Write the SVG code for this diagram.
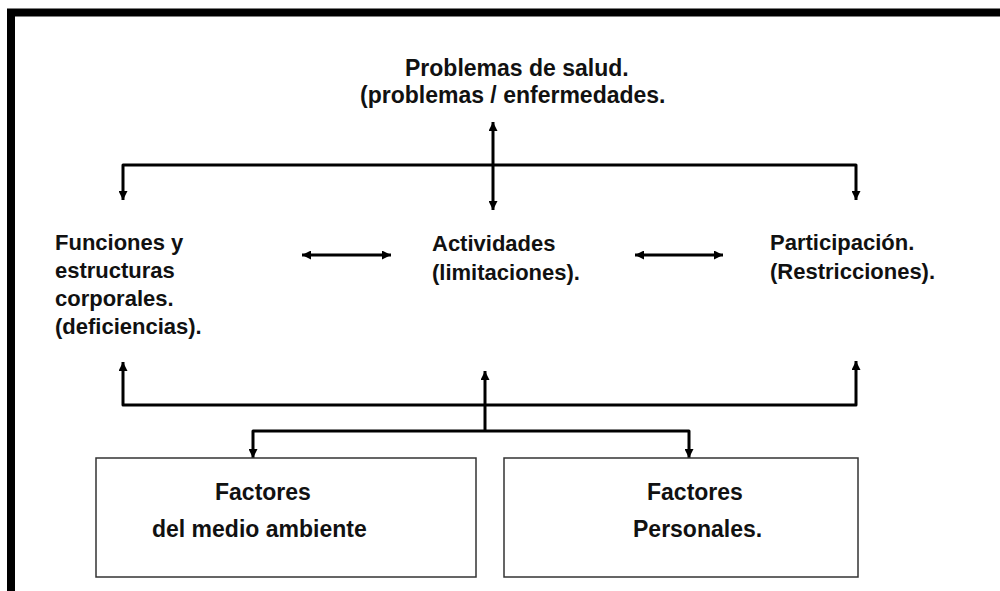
<svg xmlns="http://www.w3.org/2000/svg" width="1000" height="591" viewBox="0 0 1000 591">
  <style>
    .t { font-family: "Liberation Sans", Arial, sans-serif; font-weight: bold; fill: #111; }
    .m { font-size: 22px; }
    .b { font-size: 23px; }
    .c { fill: none; stroke: #000; stroke-width: 3; stroke-linejoin: round; }
    .box { fill: #fff; stroke: #333; stroke-width: 1.5; }
  </style>
  <defs>
    <marker id="ah" viewBox="0 0 10 10" refX="10" refY="5" markerUnits="userSpaceOnUse" markerWidth="10" markerHeight="9" orient="auto-start-reverse">
      <path d="M0,0 L10,5 L0,10 z" fill="#000"/>
    </marker>
  </defs>
  <rect width="1000" height="591" fill="#fff"/>
  <path d="M11,591 V12.5 H1000" fill="none" stroke="#000" stroke-width="8"/>

  <g id="connectors">
    <path class="c" d="M123,200 V165 H856 V200" marker-start="url(#ah)" marker-end="url(#ah)"/>
    <path class="c" d="M493,122 V210" marker-start="url(#ah)" marker-end="url(#ah)"/>
    <path class="c" d="M302,255 H391" marker-start="url(#ah)" marker-end="url(#ah)"/>
    <path class="c" d="M635,255 H723" marker-start="url(#ah)" marker-end="url(#ah)"/>
    <path class="c" d="M123,362 V405 H856 V361" marker-start="url(#ah)" marker-end="url(#ah)"/>
    <path class="c" d="M485,371 V431" marker-start="url(#ah)"/>
    <path class="c" d="M253,458 V431 H689 V458" marker-start="url(#ah)" marker-end="url(#ah)"/>
  </g>

  <g id="problemas">
    <text class="t b" x="405" y="76">Problemas de salud.</text>
    <text class="t b" x="360" y="103">(problemas / enfermedades.</text>
  </g>
  <g id="funciones">
    <text class="t m" x="55" y="250">Funciones y</text>
    <text class="t m" x="55" y="278">estructuras</text>
    <text class="t m" x="55" y="306">corporales.</text>
    <text class="t m" x="55" y="334">(deficiencias).</text>
  </g>
  <g id="actividades">
    <text class="t m" x="432" y="251">Actividades</text>
    <text class="t m" x="432" y="280">(limitaciones).</text>
  </g>
  <g id="participacion">
    <text class="t m" x="770" y="250">Participación.</text>
    <text class="t m" x="770" y="279">(Restricciones).</text>
  </g>
  <g id="factores-ambiente">
    <rect class="box" x="96" y="458" width="380" height="119"/>
    <text class="t b" x="215" y="500">Factores</text>
    <text class="t b" x="152" y="537">del medio ambiente</text>
  </g>
  <g id="factores-personales">
    <rect class="box" x="504" y="458" width="354" height="119"/>
    <text class="t b" x="647" y="500">Factores</text>
    <text class="t b" x="633" y="537">Personales.</text>
  </g>
</svg>
